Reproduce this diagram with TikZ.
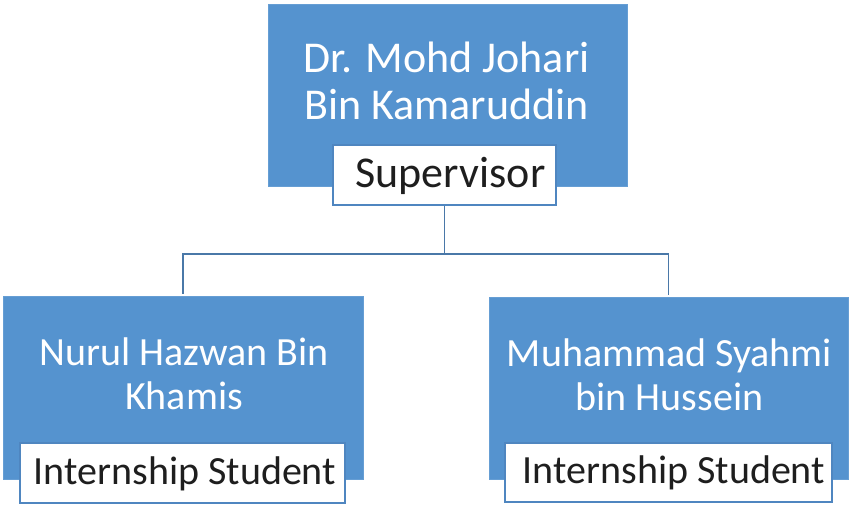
\documentclass[tikz,border=0pt]{standalone}
\usepackage{fontspec}
\setmainfont{Carlito}
\definecolor{boxblue}{HTML}{5593CF}
\definecolor{edgeblue}{HTML}{4F86C0}
\definecolor{linkblue}{HTML}{4A78A8}
\definecolor{labeltext}{HTML}{1E1E1E}
\tikzset{
  bluebox/.style={draw=boxblue!90!white, line width=1pt, fill=boxblue, inner sep=0pt},
  namebox/.style={text=white, align=center, anchor=base},
  labelbox/.style={draw=edgeblue, line width=1.6pt, fill=white, inner sep=0pt, text=labeltext, align=center},
  link/.style={draw=linkblue, line width=1.8pt}
}
\begin{document}
\begin{tikzpicture}[x=1pt,y=1pt]
\useasboundingbox (0,0) rectangle (849,506);
% boxes
\node[bluebox, minimum width=359pt, minimum height=182pt] (top) at (447.5,410) {};
\node[bluebox, minimum width=360pt, minimum height=183pt] (lbox) at (183,117.5) {};
\node[bluebox, minimum width=359pt, minimum height=182pt] (rbox) at (668.5,117) {};
% names
\node[namebox, font=\fontsize{44}{47.5}\selectfont] (topname) at (446.5,386) {Dr. Mohd Johari\\Bin Kamaruddin};
\node[namebox, font=\fontsize{40}{44}\selectfont] (lname) at (184,96) {Nurul Hazwan Bin\\Khamis};
\node[namebox, font=\fontsize{40}{44}\selectfont] (rname) at (669.5,95) {Muhammad Syahmi\\bin Hussein};
% labels
\node[labelbox, font=\fontsize{44}{48}\selectfont, minimum width=223pt, text height=43pt, text depth=17pt] (sup) at (444.5,331) {\hspace*{12pt}Supervisor};
\node[labelbox, font=\fontsize{40}{46}\selectfont, minimum width=325pt, text height=42pt, text depth=18pt] (llab) at (182.5,33) {\hspace*{5pt}Internship Student};
\node[labelbox, font=\fontsize{40}{46}\selectfont, minimum width=327pt, text height=41pt, text depth=18pt] (rlab) at (668.5,33.5) {\hspace*{11pt}Internship Student};
% connectors
\draw[link] (sup.south) -- ++(0,-48) coordinate (hub);
\draw[link] (hub) -| ([yshift=2pt]lbox.north);
\draw[link] (hub) -| ([yshift=2pt]rbox.north);
\end{tikzpicture}
\end{document}
